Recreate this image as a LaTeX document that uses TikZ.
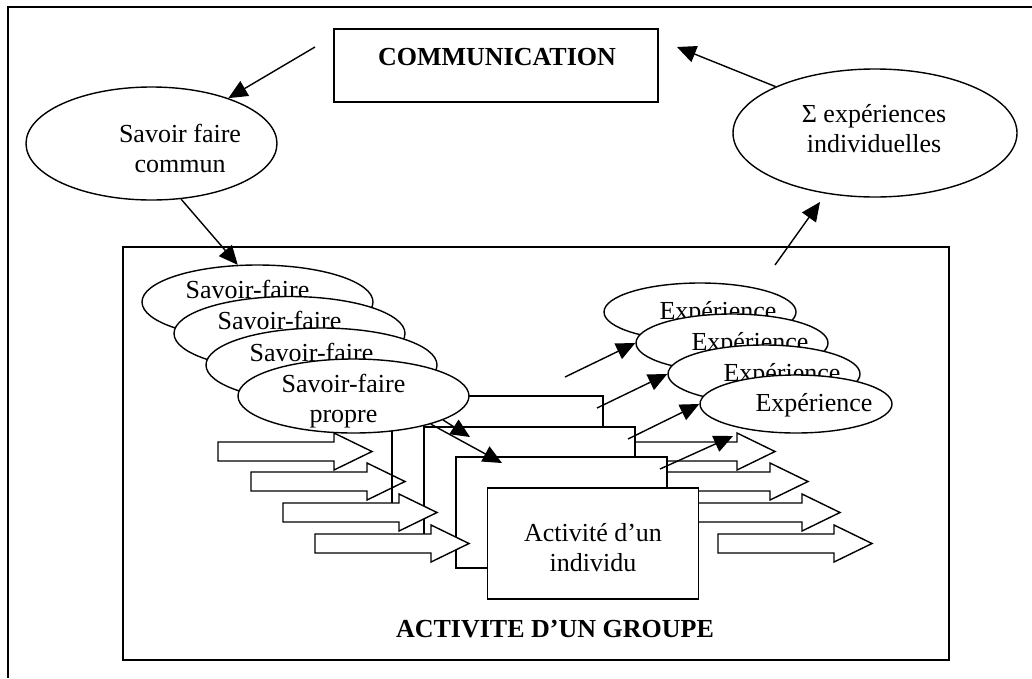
\documentclass[tikz,border=0pt]{standalone}
\usepackage{fontspec}
\setmainfont{Liberation Serif}
\usetikzlibrary{arrows.meta,shapes.geometric}

% two centred lines whose first baseline is the box baseline
\newcommand{\twolines}[2]{\begin{tabular}[t]{@{}c@{}}#1\\#2\end{tabular}}

\tikzset{
  outline/.style={draw=black, line width=1.4pt, fill=white},
  frame/.style={draw=black, line width=1.7pt},
  oval/.style={outline, ellipse, inner sep=0pt},
  box/.style={outline, rectangle, inner sep=0pt},
  txt/.style={inner sep=0pt, font=\fontsize{26}{30}\selectfont},
  boldtxt/.style={inner sep=0pt, font=\fontsize{26}{30}\selectfont\bfseries},
  link/.style={draw=black, line width=1.4pt, -{Triangle[length=19pt,width=17pt]}},
  pics/fatarrow/.style={code={
    \draw[outline, line join=miter, #1]
      (0,-9.5) -- (116,-9.5) -- (116,-18.5) -- (154,0) -- (116,18.5)
      -- (116,9.5) -- (0,9.5) -- cycle;}},
  pics/fatarrow/.default={}
}

\begin{document}
\begin{tikzpicture}[x=1pt,y=-1pt]
\useasboundingbox (0,0) rectangle (1032,678);

% page frame and group box
\draw[frame] (8,678) -- (8,7) -- (1032,7);
\node[frame, rectangle, inner sep=0pt, minimum width=826, minimum height=413] (grp) at (536,453.5) {};
\node[boldtxt, anchor=base] (grptxt) at (555,637) {ACTIVITE D’UN GROUPE};

% communication loop
\node[box, minimum width=324, minimum height=73] (comm) at (496,65.5) {};
\node[boldtxt, anchor=base] (commtxt) at (497,65) {COMMUNICATION};
\node[oval, minimum width=251, minimum height=113] (commun) at (151.5,143.5) {};
\node[txt, anchor=base] (communtxt) at (180,142) {\twolines{Savoir faire}{commun}};
\node[oval, minimum width=284, minimum height=128] (sigma) at (875,133) {};
\node[txt, anchor=base] (sigmatxt) at (874,122) {\twolines{Σ expériences}{individuelles}};

% outgoing block arrows (behind the activities)
\pic (out1) at (621,451.5) {fatarrow};
\pic (out2) at (654,481.5) {fatarrow};
\pic (out3) at (686,512.5) {fatarrow};
\pic (out4) at (718,543.5) {fatarrow};

% stacked individual activities
\node[box, minimum width=211, minimum height=111] (r1) at (497.5,451.5) {};
\node[box, minimum width=211, minimum height=111] (r2) at (529.5,482.5) {};
\node[box, minimum width=211, minimum height=111] (r3) at (561.5,512.5) {};
\node[box, minimum width=211, minimum height=111] (r4) at (593,543.5) {};
\node[txt, anchor=base] (r4txt) at (593,541) {\twolines{Activité d’un}{individu}};

% incoming block arrows
\pic (in1) at (218,451.5) {fatarrow};
\pic (in2) at (251,481.5) {fatarrow={fill=none}};
\pic (in3) at (283,512.5) {fatarrow};
\pic (in4) at (315,543.5) {fatarrow};

% own know-how
\node[oval, minimum width=231, minimum height=74] (sf1) at (257.5,302) {};
\node[txt, anchor=base] (sf1txt) at (247.5,298) {Savoir-faire};
\node[oval, minimum width=231, minimum height=74] (sf2) at (289.5,333.5) {};
\node[txt, anchor=base] (sf2txt) at (279.5,329.5) {Savoir-faire};
\node[oval, minimum width=231, minimum height=74] (sf3) at (321.5,365) {};
\node[txt, anchor=base] (sf3txt) at (311.5,361) {Savoir-faire};
\node[oval, minimum width=231, minimum height=74] (sf4) at (353.5,396) {};
\node[txt, anchor=base] (sf4txt) at (343.5,392) {\twolines{Savoir-faire}{propre}};

% experiences
\node[oval, minimum width=192, minimum height=58] (ex1) at (700,312) {};
\node[txt, anchor=base] (ex1txt) at (718,319) {Expérience};
\node[oval, minimum width=192, minimum height=58] (ex2) at (732,343) {};
\node[txt, anchor=base] (ex2txt) at (750,350) {Expérience};
\node[oval, minimum width=192, minimum height=58] (ex3) at (764,374) {};
\node[txt, anchor=base] (ex3txt) at (782,381) {Expérience};
\node[oval, minimum width=192, minimum height=58] (ex4) at (796,404) {};
\node[txt, anchor=base] (ex4txt) at (814,411) {Expérience};

% free ends of the connectors
\coordinate (commout) at (315,47);
\coordinate (sigmain) at (677,47);
\coordinate (grpout) at (775,265);
\coordinate (sigmafoot) at (820,202);
\coordinate (sfToR2) at (470,437);
\coordinate (sfToR3) at (502,463);
\coordinate (a1) at (565,377);
\coordinate (a2) at (597,408);
\coordinate (a3) at (628,439);
\coordinate (a4) at (660,469);
\coordinate (a4end) at (733,436);

% connectors
\draw[link] (commout) -- (commun);
\draw[link] (commun.-62) -- (sf1.118);
\draw[link] (sigma.155) -- (sigmain);
\draw[link] (grpout) -- (sigmafoot);
\draw[link] (sf4.-15) -- (sfToR2);
\draw[link] (sf4.-20) -- (sfToR3);
\draw[link] (a1) -- (ex2.west);
\draw[link] (a2) -- (ex3.west);
\draw[link] (a3) -- (ex4.west);
\draw[link] (a4) -- (a4end);
\end{tikzpicture}
\end{document}
